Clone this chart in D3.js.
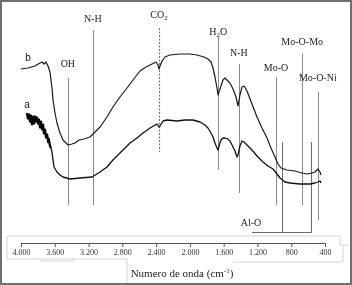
<!DOCTYPE html>
<html><head><meta charset="utf-8">
<script src="https://cdn.jsdelivr.net/npm/d3@7"></script>
<style>
html,body{margin:0;padding:0;background:#fff;}
svg{display:block;will-change:transform;}
svg text{-webkit-font-smoothing:antialiased;}
</style></head>
<body>
<svg id="chart" width="352" height="285"></svg>
<script>
// ---- data ----
const tickValues = [4000, 3600, 3200, 2800, 2400, 2000, 1600, 1200, 800, 400];
const axisTitle = "Numero  de onda (cm";
// curve b: [wavenumber, transmittance (arb.)]
const curveB = [
 [4000,80.5],[3917,81],[3834,82],[3775,83.5],[3751,84],[3728,83],[3704,84],[3680,82],[3657,79],
 [3633,71],[3621,65],[3597,58.5],[3574,53.5],[3538,48.5],[3503,45],[3443,42.5],[3396,43],[3361,43.5],
 [3313,45],[3254,45.5],[3183,46.5],[3147,48],[3064,51.5],[2982,56.5],[2911,61.5],[2828,66.5],[2745,71],
 [2674,75],[2591,79.5],[2520,81.5],[2449,83],[2401,84],[2378,82.5],[2366,80.5],[2354,82],[2330,84.5],
 [2295,86.5],[2236,87.5],[2117,88],[1999,88],[1916,87.5],[1833,86.5],[1786,85.5],[1750,84],[1726,81],
 [1703,76.5],[1679,71],[1667,67.5],[1655,69],[1632,72],[1608,75],[1584,76],[1561,75],[1525,73.5],
 [1489,70.5],[1454,66.5],[1430,62],[1407,67.5],[1383,71.5],[1359,72],[1324,69.5],[1265,63],[1205,56.5],
 [1146,51],[1087,46],[1040,41],[992,36.5],[957,33],[921,31],[850,30],[755,29.5],[672,28.5],[613,28],
 [554,28.5],[518,29],[483,30.5],[459,29],[447,27.5]
];
// curve a
const curveA = [
 [3929,58.5],[3917,55.5],[3905,58],[3893,54],[3882,57.5],[3870,52.5],[3858,57],[3846,53],[3834,57],
 [3822,54],[3811,56.5],[3799,53],[3787,55.5],[3775,51],[3763,54.5],[3751,50],[3739,53],[3728,48],
 [3716,50.5],[3704,46],[3692,48],[3680,44.5],[3669,45],[3657,42],[3645,41],[3633,39],[3621,35],[3609,31.5],
 [3574,29],[3538,27.5],[3503,26.5],[3420,25.5],[3301,26],[3159,26.5],[3064,29],[2982,31.5],[2911,35],
 [2828,38.5],[2709,43.5],[2626,46],[2555,48.5],[2472,51],[2389,53],[2366,51.5],[2354,52],[2318,54.5],
 [2271,55],[2153,54.5],[2058,55],[1963,55],[1880,54],[1821,52.5],[1786,51],[1750,48.5],[1726,46.5],
 [1703,43.5],[1679,41],[1667,40],[1655,42],[1632,45],[1608,46],[1584,46],[1549,45.5],[1525,44.5],
 [1501,42.5],[1466,39.5],[1442,36.5],[1430,37.5],[1407,42],[1383,44.5],[1359,44],[1324,42.5],[1265,40],
 [1205,37],[1134,34],[1075,32],[1016,30.5],[968,28],[933,26],[874,24],[814,23.5],[696,23],[578,23],
 [518,23.5],[483,24],[459,24.5],[447,23.5]
];
// band assignments: label, wavenumber
const bandLabels = ["OH", "N-H", "CO2", "H2O", "N-H", "Mo-O", "Mo-O-Mo", "Mo-O-Ni"];
const bandWavenumbers = [3445, 3150, 2365, 1665, 1420, 980, 670, 485];
const alOWavenumbers = [910, 565];
const seriesNames = ["a", "b"];

// ---- layout ----
const xScale = d3.scaleLinear().domain([4000, 400]).range([21, 325]);
const yScale = d3.scaleLinear().domain([0, 100]).range([230, 30]);
const bandLayout = [ // label baseline y, line top, line bottom, dashed
 {ly:67, top:78, bot:205}, {ly:22, top:30, bot:205}, {ly:18, top:28, bot:152, dash:true},
 {ly:35, top:37, bot:170}, {ly:56, top:64, bot:193}, {ly:71, top:77, bot:205},
 {ly:45, top:53, bot:205}, {ly:81, top:92, bot:220}
];

const svg = d3.select("#chart");
const serif = "'Liberation Serif','Times New Roman',serif";

// faint scan frame lines
const faint = "#d6d6d6";
const fl = [
 [7,236,340,236],[340,236,340,245],[340,245,349,245],[343,245,343,262],
 [7,236,7,259],[7,259,127,259],[127,259,127,284],[233,262,343,262],
 [40,258,40,261],[40,261,74,261],[74,261,74,258]
];
svg.selectAll("line.faint").data(fl).join("line").attr("class","faint")
 .attr("x1",d=>d[0]).attr("y1",d=>d[1]).attr("x2",d=>d[2]).attr("y2",d=>d[3])
 .attr("stroke",faint).attr("stroke-width",1);

// outer border
svg.append("rect").attr("x",1).attr("y",1).attr("width",350).attr("height",283)
 .attr("fill","none").attr("stroke","#6f6f6f").attr("stroke-width",2);

// band lines
const bands = bandLabels.map((l,i)=>({label:l, wn:bandWavenumbers[i], ...bandLayout[i]}));
svg.selectAll("line.band").data(bands).join("line").attr("class","band")
 .attr("x1",d=>Math.round(xScale(d.wn))+0.5).attr("x2",d=>Math.round(xScale(d.wn))+0.5)
 .attr("y1",d=>d.top).attr("y2",d=>d.bot)
 .attr("stroke",d=>d.dash?"#777":"#8a8a8a").attr("stroke-width",d=>d.dash?1.2:1)
 .attr("stroke-dasharray",d=>d.dash?"2,1.5":null);

// Al-O bracket
const alX = alOWavenumbers.map(w=>Math.round(xScale(w))+0.5);
alX.forEach(x=>svg.append("line").attr("x1",x).attr("x2",x).attr("y1",142).attr("y2",232.5)
 .attr("stroke","#6a6a6a").attr("stroke-width",1));
svg.append("line").attr("x1",252).attr("x2",alX[1]).attr("y1",232.5).attr("y2",232.5)
 .attr("stroke","#6a6a6a").attr("stroke-width",1);
svg.append("text").attr("x",251).attr("y",226).attr("text-anchor","middle")
 .attr("font-family",serif).attr("font-size",10).attr("fill","#222").text("Al-O");

// band labels with subscripts
function subLabel(t){
 const m = t.match(/^([A-Za-z]+)(\d)(.*)$/);
 return m;
}
bands.forEach(d=>{
 const t = svg.append("text").attr("x",xScale(d.wn)).attr("y",d.ly).attr("text-anchor","middle")
  .attr("font-family",serif).attr("font-size",10).attr("fill","#222");
 const m = subLabel(d.label);
 if(m){
  t.append("tspan").text(m[1]);
  t.append("tspan").attr("font-size",7).attr("dy",2).text(m[2]);
  if(m[3]) t.append("tspan").attr("dy",-2).text(m[3]);
 } else t.text(d.label);
});

// curves
const line = d3.line().x(d=>xScale(d[0])).y(d=>yScale(d[1])).curve(d3.curveLinear);
svg.append("path").datum(curveB).attr("d",line).attr("fill","none")
 .attr("stroke","#1a1a1a").attr("stroke-width",1.2).attr("stroke-linejoin","round");
svg.append("path").datum(curveA).attr("d",line).attr("fill","none")
 .attr("stroke","#111").attr("stroke-width",1.3).attr("stroke-linejoin","round");
// heavier noisy start of curve a
svg.append("path").datum(curveA.filter(d=>d[0]>3640)).attr("d",line).attr("fill","none")
 .attr("stroke","#000").attr("stroke-width",2.2);

// series labels
svg.append("text").attr("x",28).attr("y",61).attr("text-anchor","middle")
 .attr("font-family","'Liberation Sans',Arial,sans-serif").attr("font-size",10).attr("fill","#111").text(seriesNames[1]);
svg.append("text").attr("x",27).attr("y",108).attr("text-anchor","middle")
 .attr("font-family","'Liberation Sans',Arial,sans-serif").attr("font-size",10).attr("fill","#111").text(seriesNames[0]);

// axis
const loc = d3.formatLocale({decimal:",", thousands:".", grouping:[3], currency:["",""]});
const fmt = loc.format(",d");
const axis = d3.axisBottom(xScale).tickValues(tickValues).tickFormat(fmt).tickSize(4).tickSizeOuter(0).tickPadding(2);
const gx = svg.append("g").attr("transform","translate(0,243)").call(axis);
gx.select(".domain").attr("stroke","#555");
gx.selectAll(".tick line").attr("stroke","#555");
gx.selectAll(".tick text").attr("font-family",serif).attr("font-size",8).attr("fill","#333");

const tt = svg.append("text").attr("x",182).attr("y",277).attr("text-anchor","middle")
 .attr("font-family",serif).attr("font-size",11).attr("fill","#222");
tt.append("tspan").text(axisTitle);
tt.append("tspan").attr("font-size",7).attr("dy",-4).text("-1");
tt.append("tspan").attr("dy",4).text(")");
</script>
</body></html>
